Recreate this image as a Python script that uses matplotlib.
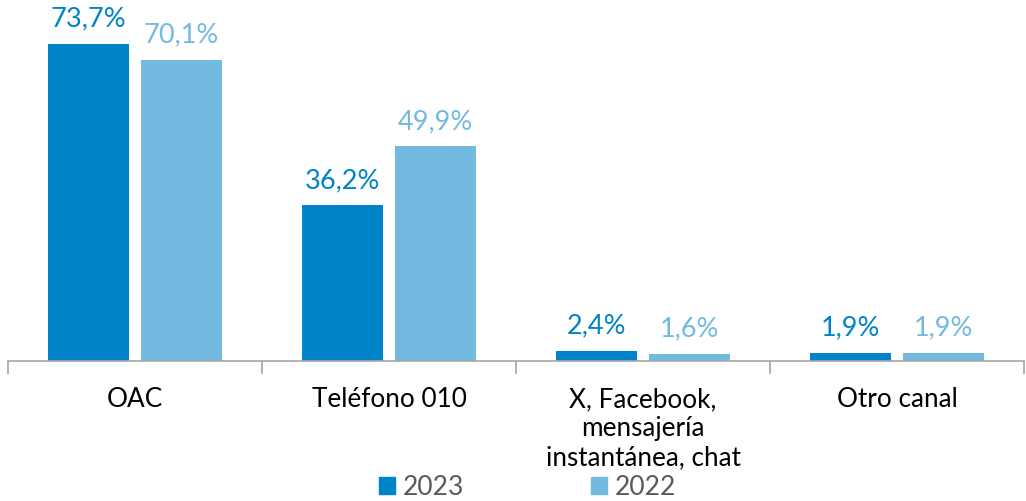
import numpy as np
import matplotlib.pyplot as plt
from matplotlib.patches import Patch

categories = ["OAC", "Teléfono 010", "X, Facebook,\nmensajería\ninstantánea, chat", "Otro canal"]
values_2023 = [73.7, 36.2, 2.4, 1.9]
values_2022 = [70.1, 49.9, 1.6, 1.9]
series_names = ["2023", "2022"]

color_2023 = "#0083C9"
color_2022 = "#72BAE0"

plt.rcParams["font.family"] = ["Lato", "DejaVu Sans"]

fig = plt.figure(figsize=(10.26, 5.01), dpi=100)
ax = fig.add_axes([8 / 1026, 140 / 501, 1016 / 1026, 361 / 501])

x = np.arange(len(categories))
width = 0.32
offset = 0.182

bars_a = ax.bar(x - offset, values_2023, width, color=color_2023)
bars_b = ax.bar(x + offset, values_2022, width, color=color_2022)

def fmt(v):
    return f"{v:.1f}%".replace(".", ",")

for bars, vals, col in [(bars_a, values_2023, color_2023), (bars_b, values_2022, color_2022)]:
    for b, v in zip(bars, vals):
        ax.annotate(fmt(v), (b.get_x() + b.get_width() / 2, v),
                    xytext=(0, 9), textcoords="offset points",
                    ha="center", va="bottom", fontsize=19.5, color=col)

ax.set_xlim(-0.5, len(categories) - 0.5)
ax.set_ylim(0, 361 / 4.3)

for s in ["top", "right", "left"]:
    ax.spines[s].set_visible(False)
ax.spines["bottom"].set_color("#A6A6A6")
ax.spines["bottom"].set_linewidth(1.2)
ax.set_yticks([])

# category labels between boundary ticks
ax.set_xticks(np.arange(-0.5, len(categories)), minor=False)
ax.set_xticklabels([])
ax.tick_params(axis="x", length=9, width=1.2, color="#A6A6A6")
ax.set_xticks(x, minor=True)
ax.set_xticklabels(categories, minor=True, fontsize=18.8, color="#000000", linespacing=1.2)
ax.tick_params(axis="x", which="minor", length=0, pad=19)

handles = [Patch(color=color_2023), Patch(color=color_2022)]
leg = fig.legend(handles, series_names, loc="lower center", ncol=2,
                 bbox_to_anchor=(0.514, -0.045), frameon=False, fontsize=19,
                 handlelength=0.6, handleheight=0.6, handletextpad=0.3,
                 columnspacing=4.8)
for t in leg.get_texts():
    t.set_color("#595959")

fig.savefig("out.png", dpi=100)
